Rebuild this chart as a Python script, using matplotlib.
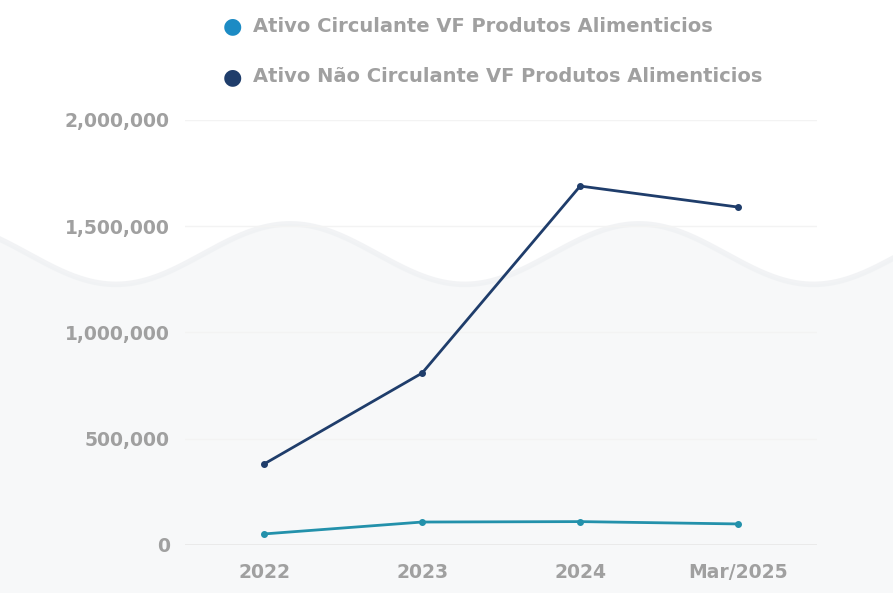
import numpy as np
import matplotlib.pyplot as plt

# dados
periodos = ['2022', '2023', '2024', 'Mar/2025']
ativo_circulante = [52000, 108000, 110000, 99000]
ativo_nao_circulante = [381000, 809000, 1689000, 1590000]

nome_circ = 'Ativo Circulante VF Produtos Alimenticios'
nome_nao_circ = 'Ativo Não Circulante VF Produtos Alimenticios'

cor_circ = '#2391ab'
cor_nao_circ = '#1f3d6b'
cinza = '#a0a0a0'

plt.rcParams['font.family'] = ['DejaVu Sans']

fig = plt.figure(figsize=(8.93, 6.05), dpi=100)

# fundo com ondas claras (decorativo)
bg = fig.add_axes([0, 0, 1, 1], zorder=0)
bg.set_xlim(0, 1)
bg.set_ylim(0, 1)
bg.axis('off')
xx = np.linspace(0, 1, 400)
onda = 0.58 + 0.05 * np.sin(2 * np.pi * (xx * 2.56 - 0.582))
bg.fill_between(xx, 0.02, onda, color='#f7f8f9', lw=0)
bg.plot(xx, onda, color='#eff1f3', lw=4, alpha=0.8)

ax = fig.add_axes([0.2072, 0.0992, 0.708, 0.7025], zorder=1)
ax.patch.set_alpha(0)

x = np.arange(len(periodos))
ax.plot(x, ativo_circulante, color=cor_circ, lw=2, marker='o', ms=4, zorder=3)
ax.plot(x, ativo_nao_circulante, color=cor_nao_circ, lw=2, marker='o', ms=4, zorder=3)

ax.set_xlim(-0.5, len(periodos) - 0.5)
ax.set_ylim(0, 2000000)
ax.set_yticks([0, 500000, 1000000, 1500000, 2000000])
ax.set_yticklabels(['{:,}'.format(v) for v in [0, 500000, 1000000, 1500000, 2000000]])
ax.set_xticks(x)
ax.set_xticklabels(periodos)

for s in ax.spines.values():
    s.set_visible(False)
ax.tick_params(length=0, colors=cinza, labelsize=13.5)
ax.tick_params(axis='y', pad=11)
ax.tick_params(axis='x', pad=13)
for lab in ax.get_xticklabels() + ax.get_yticklabels():
    lab.set_fontweight('bold')
ax.grid(axis='y', color='#f3f3f3', lw=1)
ax.axhline(0, color='#e6e6e6', lw=1.2, zorder=1)

# legenda no topo
fig.text(232 / 893, 1 - 26 / 605, '●', color='#1c8bc4', fontsize=16, ha='center', va='center')
fig.text(253 / 893, 1 - 26 / 605, nome_circ, color=cinza, fontsize=14, fontweight='bold', va='center')
fig.text(232 / 893, 1 - 77 / 605, '●', color=cor_nao_circ, fontsize=16, ha='center', va='center')
fig.text(253 / 893, 1 - 77 / 605, nome_nao_circ, color=cinza, fontsize=14, fontweight='bold', va='center')

plt.savefig('out.png', dpi=100)
